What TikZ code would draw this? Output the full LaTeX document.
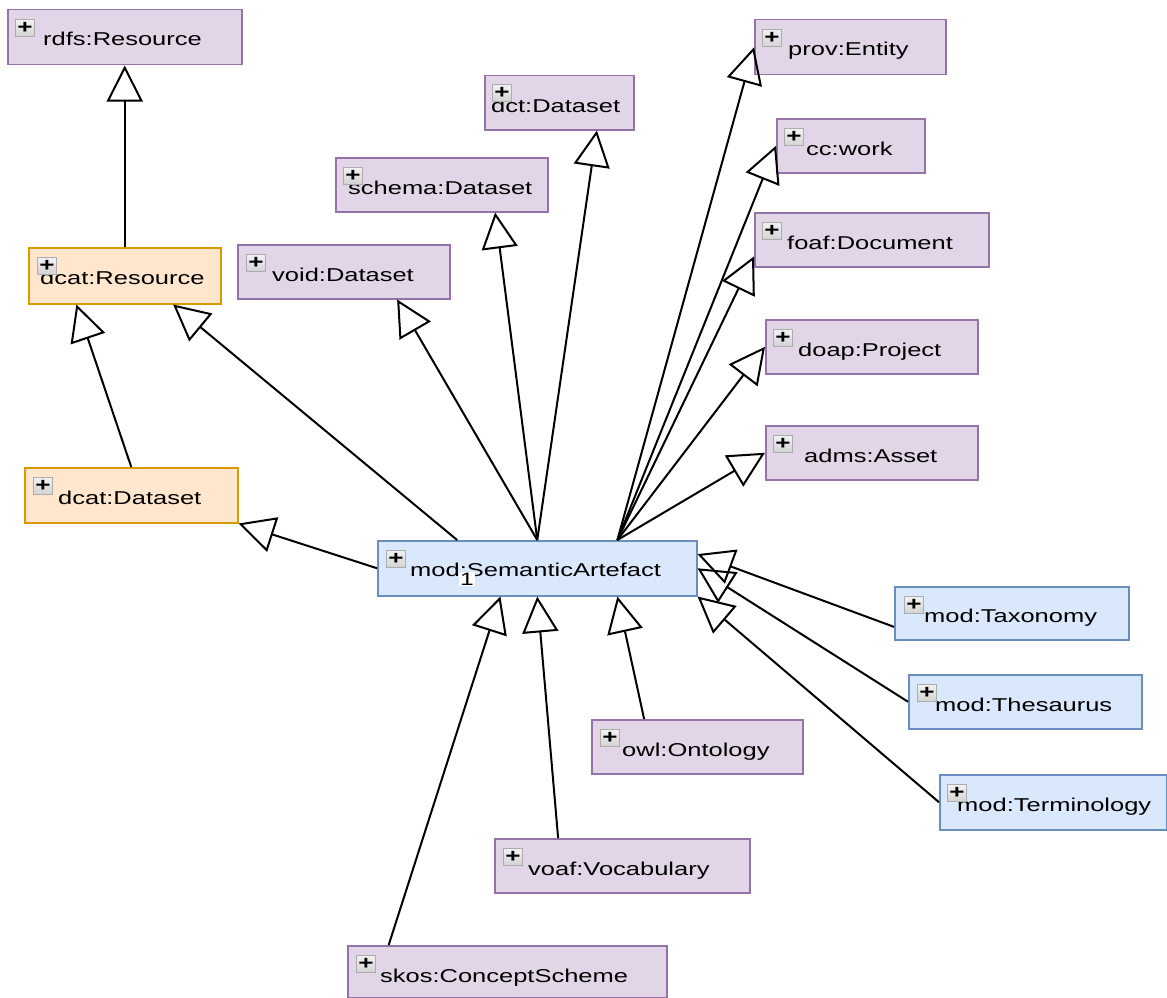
\documentclass[tikz,border=0pt]{standalone}
\usepackage{fontspec}
\setmainfont{Liberation Sans}[FakeStretch=1.37]
\usetikzlibrary{arrows.meta,calc}

\definecolor{pfill}{HTML}{E1D5E7}
\definecolor{pline}{HTML}{9673A6}
\definecolor{ofill}{HTML}{FFE6CC}
\definecolor{oline}{HTML}{D79B00}
\definecolor{bfill}{HTML}{DAE8FC}
\definecolor{bline}{HTML}{6C8EBF}

\tikzset{
  cls/.style={line width=1.5pt, anchor=north west, inner sep=0pt},
  pcls/.style={cls, fill=pfill, draw=pline},
  ocls/.style={cls, fill=ofill, draw=oline},
  bcls/.style={cls, fill=bfill, draw=bline},
  lbl/.style={anchor=base west, inner sep=0pt, font=\fontsize{18.6}{22}\selectfont},
  plus/.style={draw=gray!65, top color=gray!10, bottom color=gray!35, line width=1.2pt,
    minimum width=19pt, minimum height=17pt, inner sep=0pt,
    font=\fontsize{19}{19}\selectfont\bfseries},
  inh/.style={draw, line width=2pt, -{Triangle[open, length=36pt, width=36pt]}}
}

\begin{document}
\begin{tikzpicture}[x=1pt, y=-1pt]
  \useasboundingbox (0,0) rectangle (1167,998);

  % Classes
  \node[pcls, minimum width=234, minimum height=55] (rdfs) at (7,9) {};
  \node[lbl] (rdfs-t) at (43,46) {rdfs:Resource};
  \node[plus] (rdfs-p) at (25,28) {+};

  \node[ocls, minimum width=192, minimum height=56] (dres) at (28,247) {};
  \node[lbl] (dres-t) at (40,284) {dcat:Resource};
  \node[plus] (dres-p) at (47,266) {+};

  \node[ocls, minimum width=213, minimum height=55] (dds) at (24,467) {};
  \node[lbl] (dds-t) at (58,504) {dcat:Dataset};
  \node[plus] (dds-p) at (43,486) {+};

  \node[pcls, minimum width=212, minimum height=54] (void) at (237,244) {};
  \node[lbl] (void-t) at (272,281) {void:Dataset};
  \node[plus] (void-p) at (256,263) {+};

  \node[pcls, minimum width=212, minimum height=54] (schema) at (335,157) {};
  \node[lbl] (schema-t) at (348,194) {schema:Dataset};
  \node[plus] (schema-p) at (353,176) {+};

  \node[pcls, minimum width=149, minimum height=54] (dct) at (484,75) {};
  \node[lbl] (dct-t) at (491,112) {dct:Dataset};
  \node[plus] (dct-p) at (502,93) {+};

  \node[pcls, minimum width=191, minimum height=55] (prov) at (754,19) {};
  \node[lbl] (prov-t) at (788,56) {prov:Entity};
  \node[plus] (prov-p) at (772,38) {+};

  \node[pcls, minimum width=148, minimum height=54] (cc) at (776,118) {};
  \node[lbl] (cc-t) at (806,155) {cc:work};
  \node[plus] (cc-p) at (794,137) {+};

  \node[pcls, minimum width=234, minimum height=54] (foaf) at (754,212) {};
  \node[lbl] (foaf-t) at (787,249) {foaf:Document};
  \node[plus] (foaf-p) at (772,231) {+};

  \node[pcls, minimum width=212, minimum height=54] (doap) at (765,319) {};
  \node[lbl] (doap-t) at (798,356) {doap:Project};
  \node[plus] (doap-p) at (783,338) {+};

  \node[pcls, minimum width=212, minimum height=54] (adms) at (765,425) {};
  \node[lbl] (adms-t) at (804,462) {adms:Asset};
  \node[plus] (adms-p) at (783,444) {+};

  \node[bcls, minimum width=319, minimum height=55] (sa) at (377,540) {};
  \node[lbl] (sa-t) at (410,576) {mod:SemanticArtefact};
  \node[plus] (sa-p) at (396,559) {+};
  \node[fill=white, inner sep=1pt, font=\fontsize{18}{18}\selectfont] (sa-1) at (467,579) {1};

  \node[bcls, minimum width=234, minimum height=53] (tax) at (894,586) {};
  \node[lbl] (tax-t) at (924,622) {mod:Taxonomy};
  \node[plus] (tax-p) at (914,605) {+};

  \node[bcls, minimum width=233, minimum height=54] (thes) at (908,674) {};
  \node[lbl] (thes-t) at (935,711) {mod:Thesaurus};
  \node[plus] (thes-p) at (927,693) {+};

  \node[bcls, minimum width=227, minimum height=55] (term) at (939,774) {};
  \node[lbl] (term-t) at (957,811) {mod:Terminology};
  \node[plus] (term-p) at (957,793) {+};

  \node[pcls, minimum width=211, minimum height=54] (owl) at (591,719) {};
  \node[lbl] (owl-t) at (622,756) {owl:Ontology};
  \node[plus] (owl-p) at (610,738) {+};

  \node[pcls, minimum width=255, minimum height=54] (voaf) at (494,838) {};
  \node[lbl] (voaf-t) at (528,875) {voaf:Vocabulary};
  \node[plus] (voaf-p) at (513,857) {+};

  \node[pcls, minimum width=319, minimum height=52] (skos) at (347,945) {};
  \node[lbl] (skos-t) at (380,982) {skos:ConceptScheme};
  \node[plus] (skos-p) at (366,964) {+};

  % Generalisations
  \draw[inh] (dres.north) -- (dres.north |- rdfs.south);
  \draw[inh] (dds.north) -- ($(dres.south west)!0.25!(dres.south east)$);
  \draw[inh] ($(sa.north west)!0.25!(sa.north east)$) -- ($(dres.south west)!0.75!(dres.south east)$);
  \draw[inh] (sa.west) -- (dds.south east);

  % Datasets
  \draw[inh] (sa.north) -- ($(void.south west)!0.75!(void.south east)$);
  \draw[inh] (sa.north) -- ($(schema.south west)!0.75!(schema.south east)$);
  \draw[inh] (sa.north) -- ($(dct.south west)!0.75!(dct.south east)$);

  % Fan to the right
  \coordinate (sa-ne) at ($(sa.north west)!0.75!(sa.north east)$);
  \draw[inh] (sa-ne) -- (prov.west);
  \draw[inh] (sa-ne) -- (cc.west);
  \draw[inh] (sa-ne) -- ($(foaf.north west)!0.8!(foaf.south west)$);
  \draw[inh] (sa-ne) -- (doap.west);
  \draw[inh] (sa-ne) -- (adms.west);

  % Subclasses
  \draw[inh] ($(tax.north west)!0.75!(tax.south west)$) -- ($(sa.north east)!0.25!(sa.south east)$);
  \draw[inh] (thes.west) -- (sa.east);
  \draw[inh] (term.west) -- (sa.south east);
  \draw[inh] ($(owl.north west)!0.25!(owl.north east)$) -- ($(sa.south west)!0.75!(sa.south east)$);
  \draw[inh] ($(voaf.north west)!0.25!(voaf.north east)$) -- (sa.south);
  \draw[inh] ($(skos.north west)!0.13!(skos.north east)$) -- ($(sa.south west)!0.385!(sa.south east)$);
\end{tikzpicture}
\end{document}
